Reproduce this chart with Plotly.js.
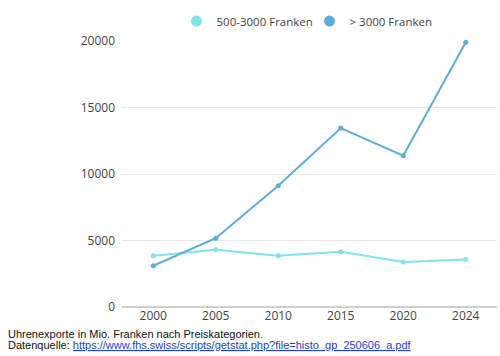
<!DOCTYPE html>
<html>
<head>
<meta charset="utf-8">
<script src="https://cdn.plot.ly/plotly-3.0.1.min.js"></script>
<style>
  html, body { margin: 0; padding: 0; background: #fff; }
  #chart { width: 500px; height: 356px; }
</style>
</head>
<body>
<div id="chart"></div>
<script>
const years = ["2000", "2005", "2010", "2015", "2020", "2024"];
const mid = [3850, 4300, 3850, 4150, 3380, 3580];      // 500-3000 Franken
const high = [3100, 5170, 9110, 13450, 11380, 19900];   // > 3000 Franken
const seriesNames = ["500-3000 Franken", "> 3000 Franken"];
const yTicks = [0, 5000, 10000, 15000, 20000];

const cLight = "#84e2ec";
const cDark = "#5aaed8";

const traces = [
  { x: years, y: mid, type: "scatter", mode: "lines+markers", name: seriesNames[0],
    line: { color: cLight, width: 2 }, marker: { color: cLight, size: 5 }, showlegend: false, cliponaxis: false },
  { x: years, y: high, type: "scatter", mode: "lines+markers", name: seriesNames[1],
    line: { color: cDark, width: 2 }, marker: { color: cDark, size: 5 }, showlegend: false, cliponaxis: false },
  { x: [null], y: [null], type: "scatter", mode: "markers", name: seriesNames[0],
    marker: { color: cLight, size: 11 }, showlegend: true },
  { x: [null], y: [null], type: "scatter", mode: "markers", name: seriesNames[1],
    marker: { color: cDark, size: 11 }, showlegend: true }
];

const layout = {
  width: 500, height: 356,
  margin: { l: 122, r: 3, t: 41, b: 49 },
  paper_bgcolor: "#fff", plot_bgcolor: "#fff",
  font: { family: "Open Sans, sans-serif", size: 12, color: "#444" },
  showlegend: true,
  legend: { orientation: "h", x: 0.5, xanchor: "center", y: 1.075, yanchor: "middle",
            font: { size: 11.5, color: "#444" }, itemwidth: 30, entrywidth: 88,
            bgcolor: "rgba(0,0,0,0)" },
  xaxis: { type: "category", categoryorder: "array", categoryarray: years,
           range: [-0.5, 5.5], showgrid: false, zeroline: false, showline: false,
           ticks: "", tickfont: { size: 12, color: "#444" }, fixedrange: true },
  yaxis: { range: [0, 20000], tickvals: yTicks, ticktext: yTicks.map(String),
           showgrid: true, gridcolor: "#e8e8e8", gridwidth: 1,
           zeroline: true, zerolinecolor: "#cfcfcf", zerolinewidth: 1.5,
           showline: false, ticks: "", ticklabelstandoff: 6,
           tickfont: { size: 12, color: "#444" }, fixedrange: true },
  annotations: [
    { xref: "paper", yref: "paper", x: -0.3093, y: -0.1015, xanchor: "left", yanchor: "middle",
      showarrow: false, align: "left",
      text: "Uhrenexporte in Mio. Franken nach Preiskategorien.",
      font: { family: "Liberation Sans, Arial, sans-serif", size: 11, color: "#111" } },
    { xref: "paper", yref: "paper", x: -0.3093, y: -0.1428, xanchor: "left", yanchor: "middle",
      showarrow: false, align: "left",
      text: "Datenquelle: <span style=\"color:#1a3fd6\"><u>https://www.fhs.swiss/scripts/getstat.php?file=histo_gp_250606_a.pdf</u></span>",
      font: { family: "Liberation Sans, Arial, sans-serif", size: 11, color: "#111" } }
  ]
};

Plotly.newPlot("chart", traces, layout, { displayModeBar: false, staticPlot: true });
</script>
</body>
</html>
